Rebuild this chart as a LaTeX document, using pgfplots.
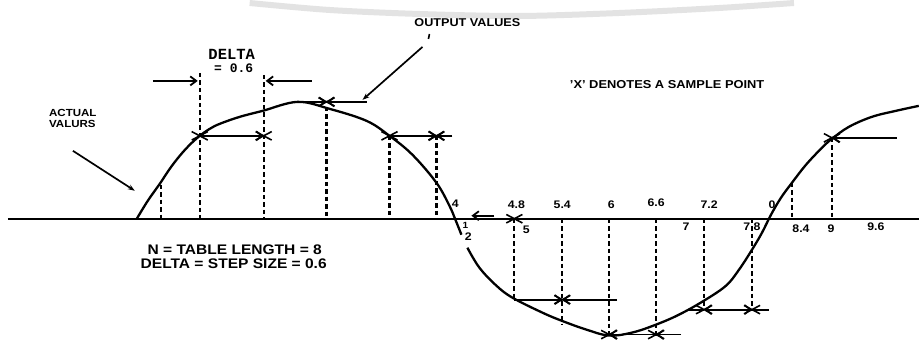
\documentclass[border=0pt]{standalone}
\usepackage{pgfplots}
\pgfplotsset{compat=1.18}
\usepackage{fontspec}
\setmainfont{Liberation Sans}[FakeStretch=1.12]
\setmonofont{Liberation Mono}
\usetikzlibrary{arrows.meta}

% Sampled waveform: actual values and the table entries taken every DELTA
\pgfplotstableread{
x y
137 216
148 198
160 181
170 166
180 153
190 142
200 133
210 126
220 121
240 114
263 108
298 99
330 106
367 118
390 133
413 152
437 180
450 203
456 217
462 232
}\upperwave
\pgfplotstableread{
x y
468 245
480 265
497 283
513 295
543 310
562 318
587 327
610 333
633 330
657 322
680 312
705 298
727 283
740 267
753 247
763 230
772 212
782 195
793 180
807 162
823 145
833 136
850 124
873 114
897 108
920 103
}\lowerwave
% sample points (x)
\pgfplotstableread{
x y
200 133
264 133
327 99
390 133
437 133
515 216
563 297
610 332
657 332
705 307
753 307
833 135
}\samples

\tikzset{
  wave/.style={black, line width=2.3pt, smooth, tension=0.6},
  drop/.style={black, line width=2.3pt, dash pattern=on 4.5pt off 3pt},
  hook/.style={black, line width=1.8pt, -{Straight Barb[length=6pt,width=9pt]}},
  lbl/.style={font=\bfseries\fontsize{11}{13}\selectfont, inner sep=0pt},
}

\begin{document}
\begin{tikzpicture}
\begin{axis}[
  scale only axis, width=920pt, height=337pt,
  xmin=0, xmax=920, ymin=0, ymax=337, y dir=reverse,
  hide axis, clip=false]
\path[draw=none] (rel axis cs:0,0) rectangle (rel axis cs:1,1);

% faint arc along the top edge
\addplot[gray!22, line width=6pt, smooth] coordinates {(250,0) (330,7) (420,11) (520,13) (620,10) (720,5) (795,0)};

% zero line
\addplot[black, line width=2.4pt] coordinates {(8,216) (920,216)};

% the waveform
\addplot[wave] table {\upperwave};
\addplot[wave] table {\lowerwave};

% sample drop lines
\addplot[drop] coordinates {(161,182) (161,216)};
\addplot[drop] coordinates {(200,70) (200,216)};
\addplot[drop] coordinates {(264,72) (264,216)};
\addplot[drop] coordinates {(327,104) (327,216)};
\addplot[drop] coordinates {(390,133) (390,216)};
\addplot[drop] coordinates {(437,133) (437,216)};
\addplot[drop] coordinates {(515,216) (515,297)};
\addplot[drop] coordinates {(563,216) (563,322)};
\addplot[drop] coordinates {(610,216) (610,333)};
\addplot[drop] coordinates {(657,216) (657,333)};
\addplot[drop] coordinates {(705,216) (705,307)};
\addplot[drop] coordinates {(753,216) (753,307)};
\addplot[drop] coordinates {(793,180) (793,216)};
\addplot[drop] coordinates {(833,135) (833,216)};

% DELTA dimension arrows
\addplot[hook] coordinates {(153,78) (198,78)};
\addplot[hook] coordinates {(312,78) (266,78)};

% output value arrows
\addplot[hook] coordinates {(200,133) (264,133)};
\addplot[hook] coordinates {(298,99) (327,99)};
\addplot[hook] coordinates {(367,99) (327,99)};
\addplot[hook] coordinates {(390,133) (437,133)};
\addplot[hook] coordinates {(453,133) (437,133)};
\addplot[hook] coordinates {(495,213) (472,213)};
\addplot[hook] coordinates {(515,297) (563,297)};
\addplot[hook] coordinates {(618,297) (563,297)};
\addplot[hook] coordinates {(657,332) (610,332)};
\addplot[hook] coordinates {(682,332) (657,332)};
\addplot[hook] coordinates {(753,307) (705,307)};
\addplot[black, line width=1.8pt] coordinates {(690,307) (705,307)};
\addplot[hook] coordinates {(720,307) (753,307)};
\addplot[black, line width=1.8pt] coordinates {(753,307) (770,307)};
\addplot[hook] coordinates {(898,135) (833,135)};

% sample point crosses
\addplot[only marks, mark=x, mark size=6pt,
  mark options={xscale=1.9, line width=1.6pt, black}] table {\samples};

% callout arrows
\addplot[black, line width=1.7pt, -{Stealth[length=7pt,width=5pt]}] coordinates {(423,44) (363,97)};
\addplot[black, line width=1.6pt] coordinates {(430,31) (429,36)};
\addplot[black, line width=1.7pt, -{Stealth[length=7pt,width=5pt]}] coordinates {(73,148) (135,188)};

% annotations
\node[lbl, font=\bfseries\fontsize{11.3}{13}\selectfont] at (468,20) {OUTPUT VALUES};
\node[lbl, font=\bfseries\fontsize{11.5}{13}\selectfont] at (668,82) {'X' DENOTES A SAMPLE POINT};
\node[lbl, font=\ttfamily\bfseries\fontsize{15.5}{16}\selectfont] at (232,51) {DELTA};
\node[lbl, font=\ttfamily\bfseries\fontsize{13}{14}\selectfont] at (234,65) {= 0.6};
\node[lbl, font=\bfseries\fontsize{10.3}{11}\selectfont, anchor=west, align=left] at (49,116) {ACTUAL\\VALURS};
\node[lbl, font=\bfseries\fontsize{13.9}{15}\selectfont] at (235,247) {N = TABLE LENGTH = 8};
\node[lbl, font=\bfseries\fontsize{13.9}{15}\selectfont] at (234,261) {DELTA = STEP SIZE = 0.6};

% position labels along the zero line
\node[lbl] at (456,201) {4};
\node[lbl, font=\bfseries\fontsize{9}{10}\selectfont] at (466,223) {1};
\node[lbl] at (469,234) {2};
\node[lbl] at (517,202) {4.8};
\node[lbl] at (527,227) {5};
\node[lbl] at (563,202) {5.4};
\node[lbl] at (612,202) {6};
\node[lbl] at (657,200) {6.6};
\node[lbl] at (710,202) {7.2};
\node[lbl] at (687,224) {7};
\node[lbl] at (753,224) {7.8};
\node[lbl] at (773,202) {0};
\node[lbl] at (802,226) {8.4};
\node[lbl] at (832,226) {9};
\node[lbl] at (877,224) {9.6};
\end{axis}
\end{tikzpicture}
\end{document}
